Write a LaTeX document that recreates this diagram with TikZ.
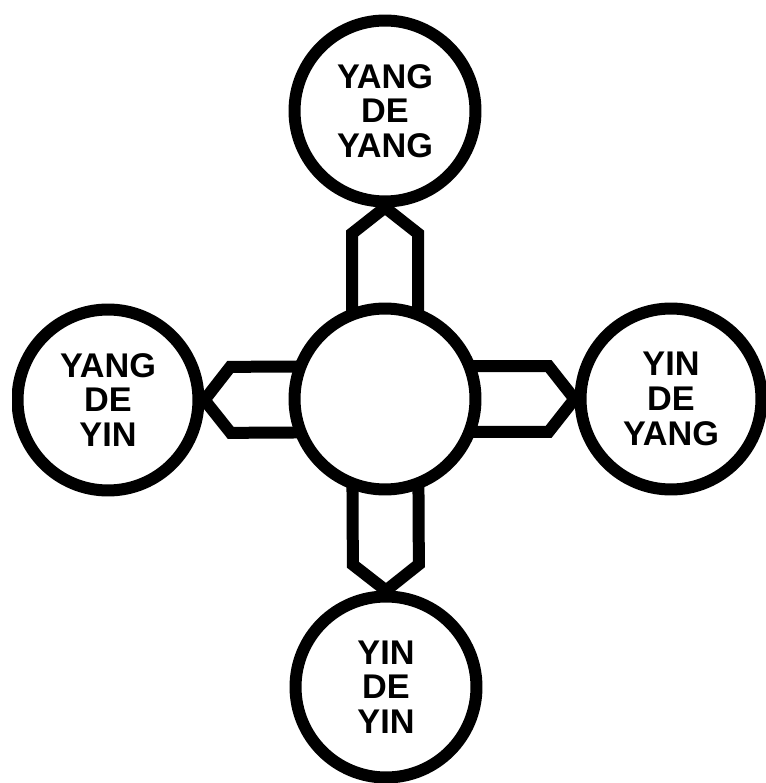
\documentclass[tikz,border=0pt]{standalone}
\usepackage{fontspec}
\setmainfont{Liberation Sans}
\usetikzlibrary{calc,backgrounds}

\tikzstyle{ring} = [circle, draw, fill=white, line width=0.24cm,
  minimum size=3.62cm, inner sep=0pt, align=center,
  font=\fontsize{19.5}{19.8}\selectfont\bfseries]
\tikzstyle{pipe} = [draw, line width=0.24cm, miter limit=10]

% pipe from the hub to the tip (#2) of an outer ring
\newcommand{\pipeto}[2]{%
  \draw[pipe] ($(#1)!0.66cm!90:(#2)$)
  -- ($(#2)!0.52cm!(#1)!0.66cm!-90:(#1)$)
  -- (#2)
  -- ($(#2)!0.52cm!(#1)!0.66cm!90:(#1)$)
  -- ($(#1)!0.66cm!-90:(#2)$);
}

\begin{document}
\begin{tikzpicture}[x=0.02cm, y=-0.02cm]
  \useasboundingbox (0,0) rectangle (766,783);
  \clip (12,15) rectangle (766,783);

  % hub and the four rings
  \node[ring] (hub) at (385,399) {};
  \node[ring] (yangyang) at (385,111) {YANG\\DE\\YANG};
  \node[ring] (yangyin) at (108,400) {YANG\\DE\\YIN};
  \node[ring] (yinyang) at (671,399) {YIN\\DE\\YANG};
  \node[ring] (yinyin) at (386,687) {YIN\\DE\\YIN};

  % pipes behind the rings
  \begin{scope}[on background layer]
    \pipeto{hub.center}{yangyang.south}
    \pipeto{hub.center}{yangyin.east}
    \pipeto{hub.center}{yinyang.west}
    \pipeto{hub.center}{yinyin.north}
  \end{scope}
\end{tikzpicture}
\end{document}
